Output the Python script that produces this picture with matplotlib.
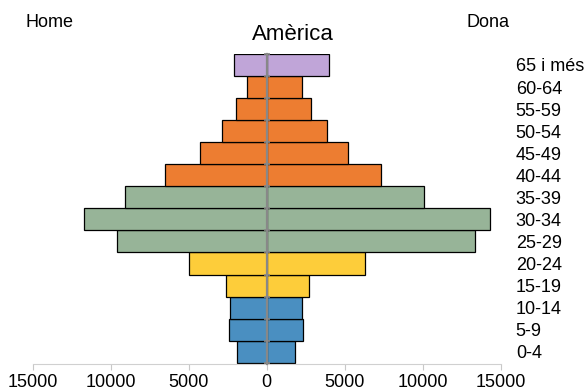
import numpy as np
import matplotlib.pyplot as plt
from matplotlib.ticker import FixedLocator

plt.rcParams['font.family'] = ['Liberation Sans', 'DejaVu Sans']

# age groups, bottom to top
grups = ['0-4', '5-9', '10-14', '15-19', '20-24', '25-29', '30-34',
         '35-39', '40-44', '45-49', '50-54', '55-59', '60-64', '65 i més']
home = [1880, 2440, 2360, 2600, 5020, 9580, 11750,
        9090, 6540, 4300, 2850, 1950, 1270, 2100]
dona = [1840, 2350, 2270, 2740, 6320, 13350, 14300,
        10100, 7310, 5210, 3860, 2830, 2290, 3990]
colors = ['#4A8FC1'] * 3 + ['#FDCD3A'] * 2 + ['#97B498'] * 3 + ['#ED7D31'] * 5 + ['#C0A5D8']
xticks = [-15000, -10000, -5000, 0, 5000, 10000, 15000]

fig = plt.figure(figsize=(5.85, 3.91), dpi=100)
ax = fig.add_axes([0.0564, 0.0678, 0.7992, 0.7942])

y = np.arange(len(grups))
ax.barh(y, -np.array(home), height=1.0, color=colors, edgecolor='black', linewidth=0.9)
ax.barh(y, dona, height=1.0, color=colors, edgecolor='black', linewidth=0.9)

ax.set_xlim(-15000, 15000)
ax.set_ylim(-0.58, 13.5)

# x axis
ax.set_xticks(xticks)
ax.set_xticklabels([str(abs(v)) for v in xticks], fontsize=13)
ax.tick_params(axis='x', length=4, color='#c8c8c8', pad=3)
ax.spines['bottom'].set_color('#d0d0d0')
ax.spines['top'].set_visible(False)
ax.spines['right'].set_visible(False)

# center axis at 0
ax.spines['left'].set_position(('data', 0))
ax.spines['left'].set_color('#888888')
ax.spines['left'].set_linewidth(1.6)
ax.spines['left'].set_zorder(5)
ax.set_yticks(y)
ax.set_yticklabels(grups, fontsize=13)
ax.yaxis.set_minor_locator(FixedLocator(np.arange(-0.5, 14, 1.0)))
ax.tick_params(axis='y', which='major', left=False, right=False,
               labelleft=False, labelright=True, length=0, pad=11)
ax.tick_params(axis='y', which='minor', left=True, right=False,
               direction='inout', length=5, width=1.2, color='#888888')

fig.text(0.5, 0.912, 'Amèrica', ha='center', va='center', fontsize=16)
fig.text(0.043, 0.943, 'Home', ha='left', va='center', fontsize=13)
fig.text(0.797, 0.943, 'Dona', ha='left', va='center', fontsize=13)

fig.savefig('out.png', dpi=100)
